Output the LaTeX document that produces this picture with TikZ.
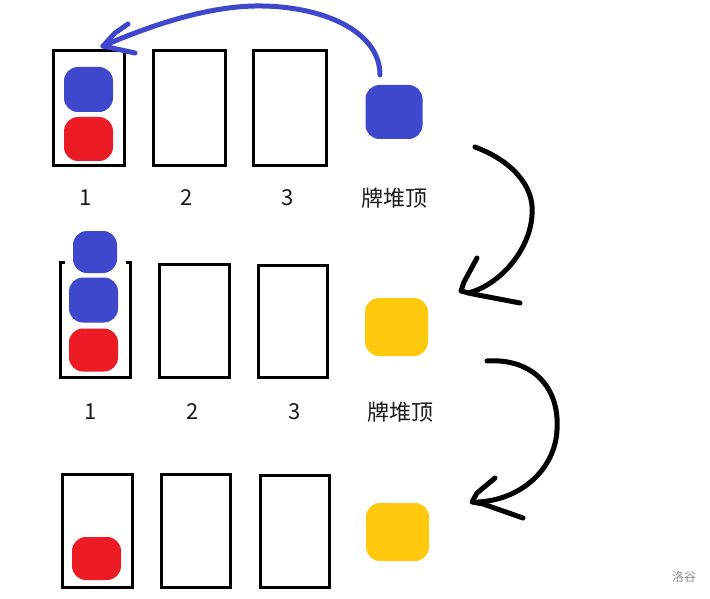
\documentclass[tikz,border=0pt]{standalone}
\usepackage{fontspec}
\setmainfont{Noto Sans CJK SC}
\definecolor{pblue}{HTML}{3F48CC}
\definecolor{pred}{HTML}{ED1C24}
\definecolor{pyellow}{HTML}{FFC90E}
\begin{document}
\begin{tikzpicture}[x=1pt,y=-1pt,
  box/.style={draw=black, line width=3pt, inner sep=0pt},
  card/.style={rounded corners=14pt, inner sep=0pt, draw=none},
  bluecard/.style={card, fill=pblue},
  redcard/.style={card, fill=pred},
  yellowcard/.style={card, fill=pyellow},
  lbl/.style={font=\fontsize{22}{25}\selectfont, text=black!90},
  pen/.style={line width=5pt, line cap=round, line join=round},
  bluepen/.style={pen, draw=pblue},
  blackpen/.style={pen, draw=black}]
\useasboundingbox (0,0) rectangle (710,599);
\fill[white] (0,0) rectangle (710,599);

% ---------- Row 1 ----------
\node[box, minimum width=71pt, minimum height=115pt] (b11) at (88.5,108) {};
\node[box, minimum width=72pt, minimum height=115pt] (b12) at (189,108) {};
\node[box, minimum width=73pt, minimum height=115pt] (b13) at (289.5,108.5) {};
\node[bluecard, minimum width=49pt, minimum height=45pt] (c11a) at (88.5,89.5) {};
\node[redcard, minimum width=49pt, minimum height=44pt] (c11b) at (88.5,139) {};
\node[bluecard, minimum width=57pt, minimum height=54pt] (p1) at (394,112) {};
\node[lbl] (l11) at (85.5,198) {1};
\node[lbl] (l12) at (187,198) {2};
\node[lbl] (l13) at (288,198) {3};
\node[lbl] (l14) at (394,198) {牌堆顶};

% ---------- Row 2 ----------
\node[minimum width=69pt, minimum height=114pt, inner sep=0pt] (b21) at (95.5,320) {};
\draw[line width=3pt] ([xshift=4pt]b21.north west) -- (b21.north west) -- (b21.south west)
  -- (b21.south east) -- (b21.north east) -- ([xshift=-4pt]b21.north east);
\node[box, minimum width=70pt, minimum height=113pt] (b22) at (194,320.5) {};
\node[box, minimum width=69pt, minimum height=112pt] (b23) at (292.5,321) {};
\node[bluecard, minimum width=44pt, minimum height=42pt] (c21a) at (95,252) {};
\node[bluecard, minimum width=49pt, minimum height=45pt] (c21b) at (93.5,300) {};
\node[redcard, minimum width=49pt, minimum height=43pt] (c21c) at (93.5,350) {};
\node[yellowcard, minimum width=63pt, minimum height=58pt] (p2) at (396.5,327) {};
\node[lbl] (l21) at (91,412) {1};
\node[lbl] (l22) at (193,412) {2};
\node[lbl] (l23) at (295,412) {3};
\node[lbl] (l24) at (400,412) {牌堆顶};

% ---------- Row 3 ----------
\node[box, minimum width=70pt, minimum height=113pt] (b31) at (97,530.5) {};
\node[box, minimum width=69pt, minimum height=113pt] (b32) at (196,530.5) {};
\node[box, minimum width=69pt, minimum height=112pt] (b33) at (294.5,531) {};
\node[redcard, minimum width=49pt, minimum height=43pt] (c31) at (96.5,558.5) {};
\node[yellowcard, minimum width=63pt, minimum height=58pt] (p3) at (397.5,532) {};

% ---------- blue arrow: pile top -> stack 1 ----------
\coordinate (bs) at ([xshift=-14pt,yshift=37pt]p1.center);
\coordinate (bm) at (255,6);
\coordinate (bt) at (103,46);
\draw[bluepen] (bs) .. controls (380,30) and (320,5) .. (bm)
  .. controls (200,7) and (140,30) .. (bt);
\draw[bluepen] (128,24) -- (115,33) -- (bt) -- (135,53);

% ---------- black arrow 1 ----------
\coordinate (k1s) at (475,147);
\coordinate (k1m) at (532,215);
\coordinate (k1t) at (461,291);
\draw[blackpen] (k1s) .. controls (510,160) and (535,185) .. (k1m)
  .. controls (530,250) and (500,285) .. (468,293);
\draw[blackpen] (477,258) -- (464,282) -- (k1t) -- (473,294) -- (520,303);

% ---------- black arrow 2 ----------
\coordinate (k2s) at (487,361);
\coordinate (k2m) at (557,430);
\coordinate (k2t) at (472,502);
\draw[blackpen] (k2s) .. controls (530,358) and (560,385) .. (k2m)
  .. controls (555,470) and (520,500) .. (478,502);
\draw[blackpen] (495,478) -- (477,493) -- (k2t) -- (483,504) -- (523,518);

% ---------- watermark ----------
\node[font=\fontsize{12}{14}\selectfont, text=black!45] (wm) at (684,577) {洛谷};
\end{tikzpicture}
\end{document}
